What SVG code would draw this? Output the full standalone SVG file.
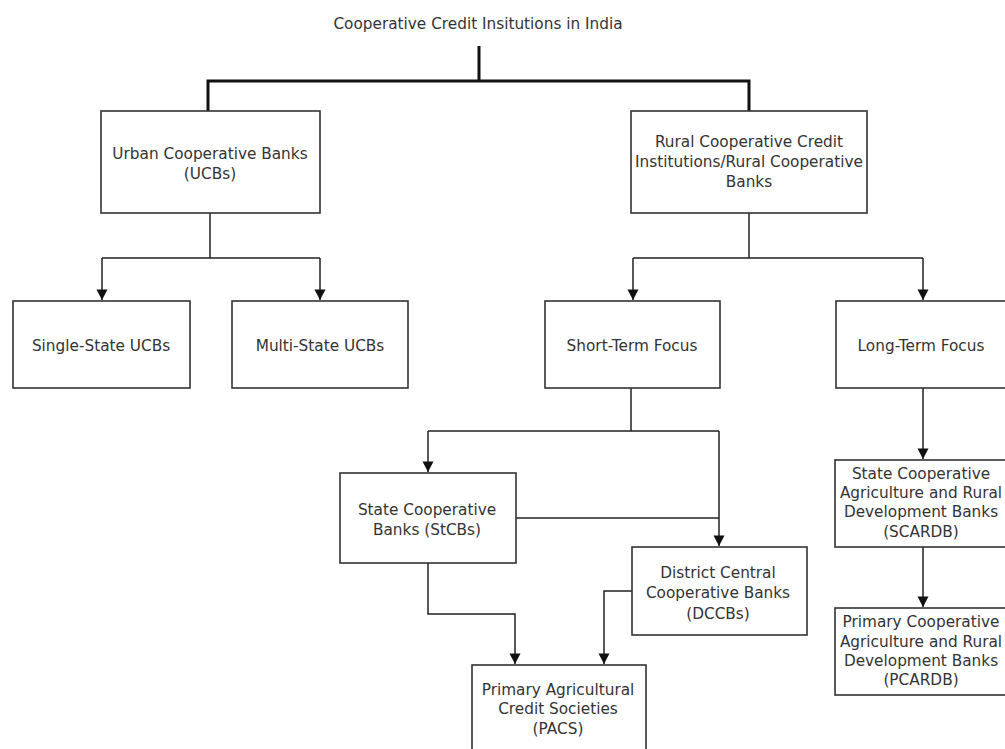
<svg xmlns="http://www.w3.org/2000/svg" width="1005" height="749" viewBox="0 0 1005 749">
<style>
.box{fill:#fff;stroke:#333;stroke-width:1.6}
.t{font-family:"DejaVu Sans",sans-serif;font-size:15.3px;fill:#333;text-anchor:middle}
.c{fill:none;stroke:#222;stroke-width:1.5}
.ct{fill:none;stroke:#111;stroke-width:3}
</style>
<defs>
<marker id="ad" markerUnits="userSpaceOnUse" markerWidth="12" markerHeight="12" refX="6" refY="11" viewBox="0 0 12 12">
<path d="M0.5,0.5 L11.5,0.5 L6,11 Z" fill="#111"/>
</marker>
</defs>
<rect width="1005" height="749" fill="#fff"/>
<text class="t" x="478" y="29">Cooperative Credit Insitutions in India</text>
<g id="connectors">
<path class="ct" d="M479,46 V81 M208,111 V81 H749 V111"/>
<path class="c" d="M210,213 V258 M102,258 H320" />
<path class="c" d="M102,258 V300" marker-end="url(#ad)"/>
<path class="c" d="M320,258 V300" marker-end="url(#ad)"/>
<path class="c" d="M749,213 V258 M633,258 H923"/>
<path class="c" d="M633,258 V300" marker-end="url(#ad)"/>
<path class="c" d="M923,258 V300" marker-end="url(#ad)"/>
<path class="c" d="M631,388 V431 M428,431 H719"/>
<path class="c" d="M428,431 V472" marker-end="url(#ad)"/>
<path class="c" d="M719,431 V546" marker-end="url(#ad)"/>
<path class="c" d="M516,518 H719"/>
<path class="c" d="M428,563 V614 H515 V664" marker-end="url(#ad)"/>
<path class="c" d="M632,591 H604 V664" marker-end="url(#ad)"/>
<path class="c" d="M923,388 V459" marker-end="url(#ad)"/>
<path class="c" d="M923,547 V607" marker-end="url(#ad)"/>
</g>
<g id="ucb"><rect class="box" x="101" y="111" width="219" height="102"/>
<text class="t" x="210" y="159">Urban Cooperative Banks</text><text class="t" x="210" y="179">(UCBs)</text></g>
<g id="rural"><rect class="box" x="631" y="111" width="236" height="102"/>
<text class="t" x="749" y="147">Rural Cooperative Credit</text><text class="t" x="749" y="167">Institutions/Rural Cooperative</text><text class="t" x="749" y="187">Banks</text></g>
<g id="single"><rect class="box" x="13" y="301" width="177" height="87"/>
<text class="t" x="101" y="351">Single-State UCBs</text></g>
<g id="multi"><rect class="box" x="232" y="301" width="176" height="87"/>
<text class="t" x="320" y="351">Multi-State UCBs</text></g>
<g id="short"><rect class="box" x="545" y="301" width="175" height="87"/>
<text class="t" x="632" y="351">Short-Term Focus</text></g>
<g id="long"><rect class="box" x="836" y="301" width="175" height="87"/>
<text class="t" x="921" y="351">Long-Term Focus</text></g>
<g id="stcb"><rect class="box" x="340" y="473" width="176" height="90"/>
<text class="t" x="427" y="515">State Cooperative</text><text class="t" x="427" y="535">Banks (StCBs)</text></g>
<g id="dccb"><rect class="box" x="632" y="547" width="175" height="88"/>
<text class="t" x="718" y="578">District Central</text><text class="t" x="718" y="598">Cooperative Banks</text><text class="t" x="718" y="619">(DCCBs)</text></g>
<g id="pacs"><rect class="box" x="472" y="665" width="174" height="95"/>
<text class="t" x="558" y="695">Primary Agricultural</text><text class="t" x="558" y="714">Credit Societies</text><text class="t" x="558" y="734">(PACS)</text></g>
<g id="scardb"><rect class="box" x="835" y="460" width="175" height="87"/>
<text class="t" x="921" y="479">State Cooperative</text><text class="t" x="921" y="498">Agriculture and Rural</text><text class="t" x="921" y="517">Development Banks</text><text class="t" x="921" y="537">(SCARDB)</text></g>
<g id="pcardb"><rect class="box" x="835" y="608" width="175" height="87"/>
<text class="t" x="921" y="627">Primary Cooperative</text><text class="t" x="921" y="647">Agriculture and Rural</text><text class="t" x="921" y="666">Development Banks</text><text class="t" x="921" y="685">(PCARDB)</text></g>
</svg>
